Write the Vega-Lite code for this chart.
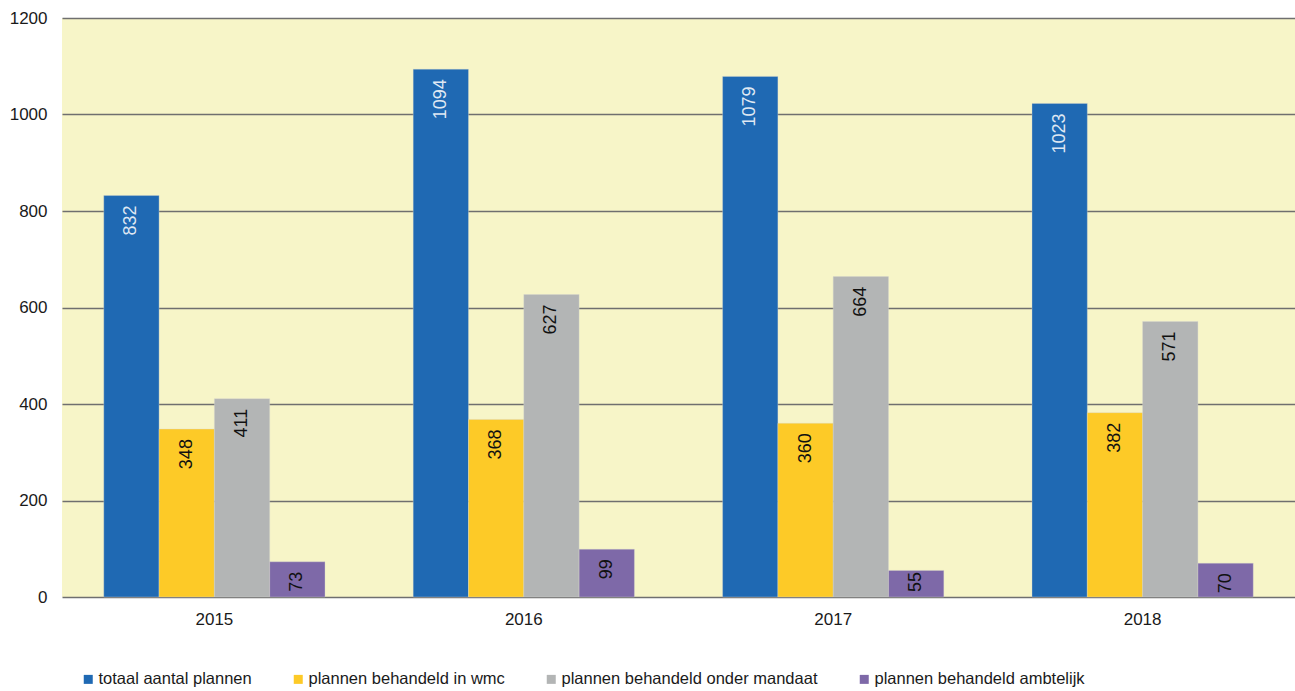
{
  "$schema": "https://vega.github.io/schema/vega-lite/v6.json",
  "autosize": "none",
  "width": 1233,
  "height": 579,
  "padding": {"left": 62, "top": 18, "right": 0, "bottom": 94},
  "background": "white",
  "config": {
    "font": "Liberation Sans",
    "view": {"fill": "#f7f5c8", "stroke": null}
  },
  "data": {
    "values": [
      {"jaar": "2015", "reeks": "totaal aantal plannen", "aantal": 832},
      {"jaar": "2015", "reeks": "plannen behandeld in wmc", "aantal": 348},
      {"jaar": "2015", "reeks": "plannen behandeld onder mandaat", "aantal": 411},
      {"jaar": "2015", "reeks": "plannen behandeld ambtelijk", "aantal": 73},
      {"jaar": "2016", "reeks": "totaal aantal plannen", "aantal": 1094},
      {"jaar": "2016", "reeks": "plannen behandeld in wmc", "aantal": 368},
      {"jaar": "2016", "reeks": "plannen behandeld onder mandaat", "aantal": 627},
      {"jaar": "2016", "reeks": "plannen behandeld ambtelijk", "aantal": 99},
      {"jaar": "2017", "reeks": "totaal aantal plannen", "aantal": 1079},
      {"jaar": "2017", "reeks": "plannen behandeld in wmc", "aantal": 360},
      {"jaar": "2017", "reeks": "plannen behandeld onder mandaat", "aantal": 664},
      {"jaar": "2017", "reeks": "plannen behandeld ambtelijk", "aantal": 55},
      {"jaar": "2018", "reeks": "totaal aantal plannen", "aantal": 1023},
      {"jaar": "2018", "reeks": "plannen behandeld in wmc", "aantal": 382},
      {"jaar": "2018", "reeks": "plannen behandeld onder mandaat", "aantal": 571},
      {"jaar": "2018", "reeks": "plannen behandeld ambtelijk", "aantal": 70}
    ]
  },
  "encoding": {
    "x": {
      "field": "jaar",
      "type": "nominal",
      "scale": {"paddingInner": 0.285, "paddingOuter": 0.135},
      "axis": {
        "title": null,
        "labelAngle": 0,
        "labelFontSize": 17,
        "labelColor": "#1a1a1a",
        "labelPadding": 14,
        "ticks": false,
        "domain": false
      }
    },
    "xOffset": {
      "field": "reeks",
      "type": "nominal",
      "scale": {
        "domain": ["totaal aantal plannen", "plannen behandeld in wmc", "plannen behandeld onder mandaat", "plannen behandeld ambtelijk"],
        "paddingInner": 0,
        "paddingOuter": 0
      }
    },
    "y": {
      "field": "aantal",
      "type": "quantitative",
      "scale": {"domain": [0, 1200], "nice": false},
      "axis": {
        "title": null,
        "values": [0, 200, 400, 600, 800, 1000, 1200],
        "format": "d",
        "labelFontSize": 17,
        "labelColor": "#1a1a1a",
        "labelPadding": 15,
        "ticks": false,
        "domain": false,
        "grid": true,
        "gridColor": "#6f6f6f",
        "gridWidth": 1.5
      }
    }
  },
  "layer": [
    {
      "mark": {"type": "bar", "stroke": "#d8d8d0", "strokeWidth": 0.6, "strokeOpacity": 0.6},
      "encoding": {
        "color": {
          "field": "reeks",
          "type": "nominal",
          "scale": {
            "domain": ["totaal aantal plannen", "plannen behandeld in wmc", "plannen behandeld onder mandaat", "plannen behandeld ambtelijk"],
            "range": ["#1f69b3", "#fdca27", "#b3b5b5", "#7e69a8"]
          },
          "legend": {
            "title": null,
            "orient": "none",
            "legendX": 18,
            "legendY": 653,
            "direction": "horizontal",
            "symbolType": "square",
            "symbolSize": 81,
            "symbolStrokeWidth": 0,
            "labelFontSize": 16.5,
            "labelColor": "#1a1a1a",
            "labelOffset": 2,
            "labelLimit": 400,
            "columnPadding": 38
          }
        }
      }
    },
    {
      "transform": [{"filter": "datum.aantal >= 60"}],
      "mark": {
        "type": "text",
        "angle": 270,
        "align": "right",
        "baseline": "middle",
        "dx": -10,
        "fontSize": 18
      },
      "encoding": {
        "text": {"field": "aantal", "type": "quantitative"},
        "color": {
          "condition": {"test": "datum.reeks === 'totaal aantal plannen'", "value": "#dfe8f3"},
          "value": "#111111"
        }
      }
    },
    {
      "transform": [{"filter": "datum.aantal < 60"}],
      "mark": {
        "type": "text",
        "angle": 270,
        "align": "left",
        "baseline": "middle",
        "dx": 5,
        "fontSize": 18,
        "color": "#111111"
      },
      "encoding": {
        "y": {"datum": 0},
        "text": {"field": "aantal", "type": "quantitative"}
      }
    }
  ]
}
